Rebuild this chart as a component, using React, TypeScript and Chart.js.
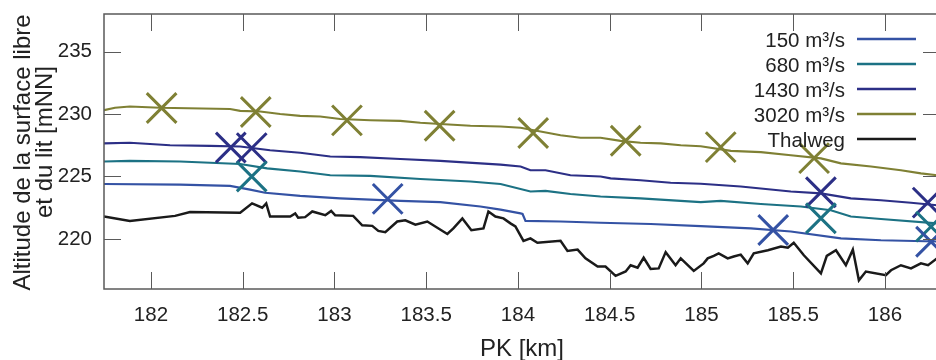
import React, { useEffect, useRef } from "react";
import { Chart, registerables } from "chart.js";

Chart.register(...registerables);

const FONT = "'Liberation Sans', Arial, Helvetica, sans-serif";

const xTickValues = [182, 182.5, 183, 183.5, 184, 184.5, 185, 185.5, 186];
const yTickValues = [220, 225, 230, 235];
const xTitle = "PK [km]";
const yTitleLines = ["Altitude de la surface libre", "et du lit [mNN]"];

const seriesLabels = ["150 m³/s", "680 m³/s", "1430 m³/s", "3020 m³/s", "Thalweg"];
const seriesColors = ["#3452a4", "#1c7284", "#2c2f86", "#7f8034", "#1a1a1a"];

// Water surface profiles
const pk150 = [181.744, 182.158, 182.431, 182.540, 182.622, 182.813, 183.031, 183.359, 183.577, 183.795, 183.905, 184.014, 184.025, 184.041, 184.232, 184.450, 184.723, 184.996, 185.269, 185.487, 185.760, 185.978, 186.284, 186.32];
const z150 = [224.4, 224.35, 224.25, 223.95, 223.7, 223.45, 223.25, 223.05, 222.95, 222.6, 222.35, 222.05, 222.0, 221.45, 221.4, 221.3, 221.2, 221.03, 220.85, 220.6, 220.05, 219.9, 219.8, 219.78];

const pk680 = [181.744, 181.885, 182.158, 182.486, 182.633, 182.813, 182.977, 183.195, 183.468, 183.741, 183.905, 184.068, 184.150, 184.286, 184.450, 184.668, 184.887, 184.996, 185.105, 185.324, 185.542, 185.705, 185.814, 185.978, 186.284, 186.32];
const z680 = [226.2, 226.25, 226.2, 226.0, 225.65, 225.4, 225.1, 225.05, 224.8, 224.6, 224.4, 223.8, 223.85, 223.6, 223.4, 223.25, 223.05, 222.95, 223.05, 222.8, 222.6, 222.3, 221.8, 221.6, 221.25, 221.22];

const pk1430 = [181.744, 181.885, 182.104, 182.322, 182.486, 182.649, 182.813, 182.977, 183.141, 183.359, 183.577, 183.795, 183.905, 184.014, 184.068, 184.150, 184.286, 184.450, 184.505, 184.668, 184.832, 184.996, 185.214, 185.487, 185.651, 185.814, 185.978, 186.142, 186.284, 186.32];
const z1430 = [227.65, 227.7, 227.5, 227.45, 227.4, 227.1, 226.9, 226.6, 226.55, 226.4, 226.25, 226.05, 225.95, 225.8, 225.5, 225.5, 225.1, 225.0, 224.85, 224.7, 224.5, 224.42, 224.2, 223.8, 223.65, 223.25, 223.1, 222.9, 222.7, 222.68];

const pk3020 = [181.744, 181.804, 181.885, 182.049, 182.431, 182.486, 182.595, 182.704, 182.813, 182.922, 183.031, 183.195, 183.359, 183.468, 183.577, 183.741, 183.905, 184.014, 184.123, 184.232, 184.341, 184.450, 184.559, 184.668, 184.778, 184.887, 184.996, 185.160, 185.324, 185.487, 185.651, 185.760, 185.924, 186.087, 186.196, 186.284, 186.32];
const z3020 = [230.3, 230.5, 230.6, 230.5, 230.4, 230.25, 230.2, 230.0, 229.85, 229.8, 229.6, 229.5, 229.45, 229.3, 229.2, 229.06, 229.0, 228.9, 228.6, 228.3, 228.1, 228.1, 227.85, 227.7, 227.65, 227.5, 227.42, 227.05, 226.95, 226.7, 226.45, 226.05, 225.8, 225.5, 225.25, 225.1, 225.05];

// Thalweg (bed)
const pkThalweg = [181.744, 181.885, 182.131, 182.213, 182.486, 182.551, 182.606, 182.628, 182.649, 182.759, 182.786, 182.802, 182.840, 182.879, 182.950, 182.982, 183.004, 183.102, 183.151, 183.206, 183.239, 183.277, 183.342, 183.386, 183.441, 183.506, 183.615, 183.648, 183.697, 183.746, 183.812, 183.839, 183.877, 183.921, 183.959, 183.986, 184.030, 184.068, 184.106, 184.232, 184.270, 184.325, 184.368, 184.434, 184.477, 184.532, 184.587, 184.614, 184.652, 184.685, 184.723, 184.767, 184.805, 184.859, 184.887, 184.958, 185.012, 185.034, 185.067, 185.094, 185.143, 185.176, 185.214, 185.252, 185.285, 185.362, 185.433, 185.471, 185.503, 185.558, 185.651, 185.683, 185.733, 185.787, 185.825, 185.858, 185.896, 186.005, 186.033, 186.087, 186.142, 186.196, 186.235, 186.284, 186.32];
const zThalweg = [221.8, 221.45, 221.85, 222.15, 222.1, 222.85, 222.5, 222.85, 221.8, 221.8, 222.05, 221.7, 221.75, 222.2, 221.9, 222.25, 221.9, 221.85, 221.1, 221.05, 220.65, 220.55, 221.4, 221.5, 221.15, 221.4, 220.4, 220.85, 221.65, 220.7, 220.85, 222.2, 221.8, 221.65, 221.25, 221.0, 219.85, 220.05, 219.7, 219.85, 219.05, 219.15, 218.45, 217.8, 217.8, 217.05, 217.4, 217.9, 217.7, 218.5, 217.6, 217.65, 218.95, 217.9, 218.45, 217.45, 218.05, 218.45, 218.65, 218.85, 218.45, 218.6, 218.75, 218.05, 218.85, 219.1, 219.4, 219.3, 219.7, 218.7, 217.25, 218.65, 219.1, 217.9, 219.15, 216.7, 217.4, 217.1, 217.5, 217.9, 217.65, 218.05, 217.9, 218.45, 218.6];

// Measured marks (crosses)
const mk150PK = [183.29, 185.391, 186.251];
const mk150Z = [223.21, 220.72, 219.78];
const mk680PK = [182.549, 185.651, 186.251];
const mk680Z = [225.0, 221.66, 220.99];
const mk1430PK = [182.435, 182.549, 185.651, 186.233];
const mk1430Z = [227.32, 227.27, 223.74, 222.91];
const mk3020PK = [182.058, 182.571, 183.068, 183.573, 184.083, 184.587, 185.105, 185.614];
const mk3020Z = [230.48, 230.16, 229.49, 229.06, 228.48, 227.86, 227.35, 226.47];

const X_MIN = 181.744;
const X_MAX = 186.3;
const Y_MIN = 216;
const Y_MAX = 238;

function pts(xs: number[], ys: number[]) {
  return xs.map((x, i) => ({ x, y: ys[i] }));
}

function zeroPadding(s: any) {
  s.paddingLeft = 0;
  s.paddingRight = 0;
  s.paddingTop = 0;
  s.paddingBottom = 0;
}

const decorPlugin = {
  id: "decor",
  afterDraw(chart: any) {
    const { ctx, chartArea: a, scales } = chart;
    ctx.save();
    // frame
    ctx.strokeStyle = "#5a5a5a";
    ctx.lineWidth = 1.5;
    ctx.strokeRect(a.left, a.top, a.right - a.left, a.bottom - a.top);
    // inward ticks, mirrored
    const tl = 17;
    ctx.lineWidth = 1;
    ctx.beginPath();
    for (const v of xTickValues) {
      const px = Math.round(scales.x.getPixelForValue(v)) + 0.5;
      ctx.moveTo(px, a.bottom);
      ctx.lineTo(px, a.bottom - tl);
      ctx.moveTo(px, a.top);
      ctx.lineTo(px, a.top + tl);
    }
    for (const v of yTickValues) {
      const py = Math.round(scales.y.getPixelForValue(v)) + 0.5;
      ctx.moveTo(a.left, py);
      ctx.lineTo(a.left + tl, py);
      ctx.moveTo(a.right, py);
      ctx.lineTo(a.right - tl, py);
    }
    ctx.stroke();

    // axis titles
    ctx.fillStyle = "#222";
    ctx.font = `24px ${FONT}`;
    ctx.textAlign = "center";
    ctx.textBaseline = "alphabetic";
    ctx.fillText(xTitle, (a.left + a.right) / 2, 356);
    const yl = [
      { x: 30, y: 152.5 },
      { x: 52, y: 142 },
    ];
    yTitleLines.forEach((t, i) => {
      ctx.save();
      ctx.translate(yl[i].x, yl[i].y);
      ctx.rotate(-Math.PI / 2);
      ctx.fillText(t, 0, 0);
      ctx.restore();
    });

    // legend
    ctx.font = `20.5px ${FONT}`;
    ctx.textAlign = "right";
    ctx.textBaseline = "alphabetic";
    seriesLabels.forEach((lab, i) => {
      const y = 39 + 25 * i;
      ctx.fillStyle = "#222";
      ctx.fillText(lab, 845, y + 7.5);
      ctx.strokeStyle = seriesColors[i];
      ctx.lineWidth = 2.5;
      ctx.beginPath();
      ctx.moveTo(857, y);
      ctx.lineTo(916, y);
      ctx.stroke();
    });
    ctx.restore();
  },
};

export default function App() {
  const ref = useRef<HTMLCanvasElement | null>(null);
  useEffect(() => {
    if (!ref.current) return;
    const lineDs = (label: string, xs: number[], ys: number[], color: string, w: number) => ({
      label,
      data: pts(xs, ys),
      showLine: true,
      borderColor: color,
      backgroundColor: color,
      borderWidth: w,
      pointRadius: 0,
      tension: 0,
      order: 2,
    });
    const markDs = (label: string, xs: number[], ys: number[], color: string) => ({
      label,
      data: pts(xs, ys),
      showLine: false,
      borderColor: color,
      backgroundColor: color,
      pointStyle: "crossRot",
      pointRadius: 21,
      pointBorderWidth: 3,
      pointBorderColor: color,
      clip: false,
      order: 1,
    });
    const chart = new Chart(ref.current, {
      type: "scatter",
      data: {
        datasets: [
          lineDs(seriesLabels[4], pkThalweg, zThalweg, seriesColors[4], 2.5),
          lineDs(seriesLabels[0], pk150, z150, seriesColors[0], 2.2),
          lineDs(seriesLabels[1], pk680, z680, seriesColors[1], 2.2),
          lineDs(seriesLabels[2], pk1430, z1430, seriesColors[2], 2.2),
          lineDs(seriesLabels[3], pk3020, z3020, seriesColors[3], 2.2),
          markDs("m150", mk150PK, mk150Z, seriesColors[0]),
          markDs("m680", mk680PK, mk680Z, seriesColors[1]),
          markDs("m1430", mk1430PK, mk1430Z, seriesColors[2]),
          markDs("m3020", mk3020PK, mk3020Z, seriesColors[3]),
        ] as any,
      },
      options: {
        responsive: false,
        animation: false,
        devicePixelRatio: 1,
        layout: { autoPadding: false, padding: { top: 14, right: 2, left: 0, bottom: 0 } },
        plugins: { legend: { display: false }, tooltip: { enabled: false }, title: { display: false } },
        scales: {
          x: {
            type: "linear",
            min: X_MIN,
            max: X_MAX,
            afterFit: (s: any) => {
              s.height = 71;
              zeroPadding(s);
            },
            afterBuildTicks: (s: any) => {
              s.ticks = xTickValues.map((v) => ({ value: v }));
            },
            grid: { display: false, drawTicks: false },
            border: { display: false },
            ticks: {
              padding: 14,
              autoSkip: false,
              maxRotation: 0,
              color: "#222",
              font: { family: FONT, size: 20.5 },
              callback: (v: any) => String(v),
            },
          },
          y: {
            type: "linear",
            min: Y_MIN,
            max: Y_MAX,
            afterFit: (s: any) => {
              s.width = 104;
              zeroPadding(s);
            },
            afterBuildTicks: (s: any) => {
              s.ticks = yTickValues.map((v) => ({ value: v }));
            },
            grid: { display: false, drawTicks: false },
            border: { display: false },
            ticks: {
              padding: 12,
              color: "#222",
              font: { family: FONT, size: 20.5 },
              callback: (v: any) => String(v),
            },
          },
        },
      } as any,
      plugins: [decorPlugin],
    });
    return () => chart.destroy();
  }, []);
  return (
    <div
      style={{
        position: "fixed",
        left: 0,
        top: 0,
        width: 936,
        height: 360,
        overflow: "hidden",
        background: "#fff",
      }}
    >
      <canvas ref={ref} width={942} height={360} style={{ display: "block", width: 942, height: 360 }} />
    </div>
  );
}
